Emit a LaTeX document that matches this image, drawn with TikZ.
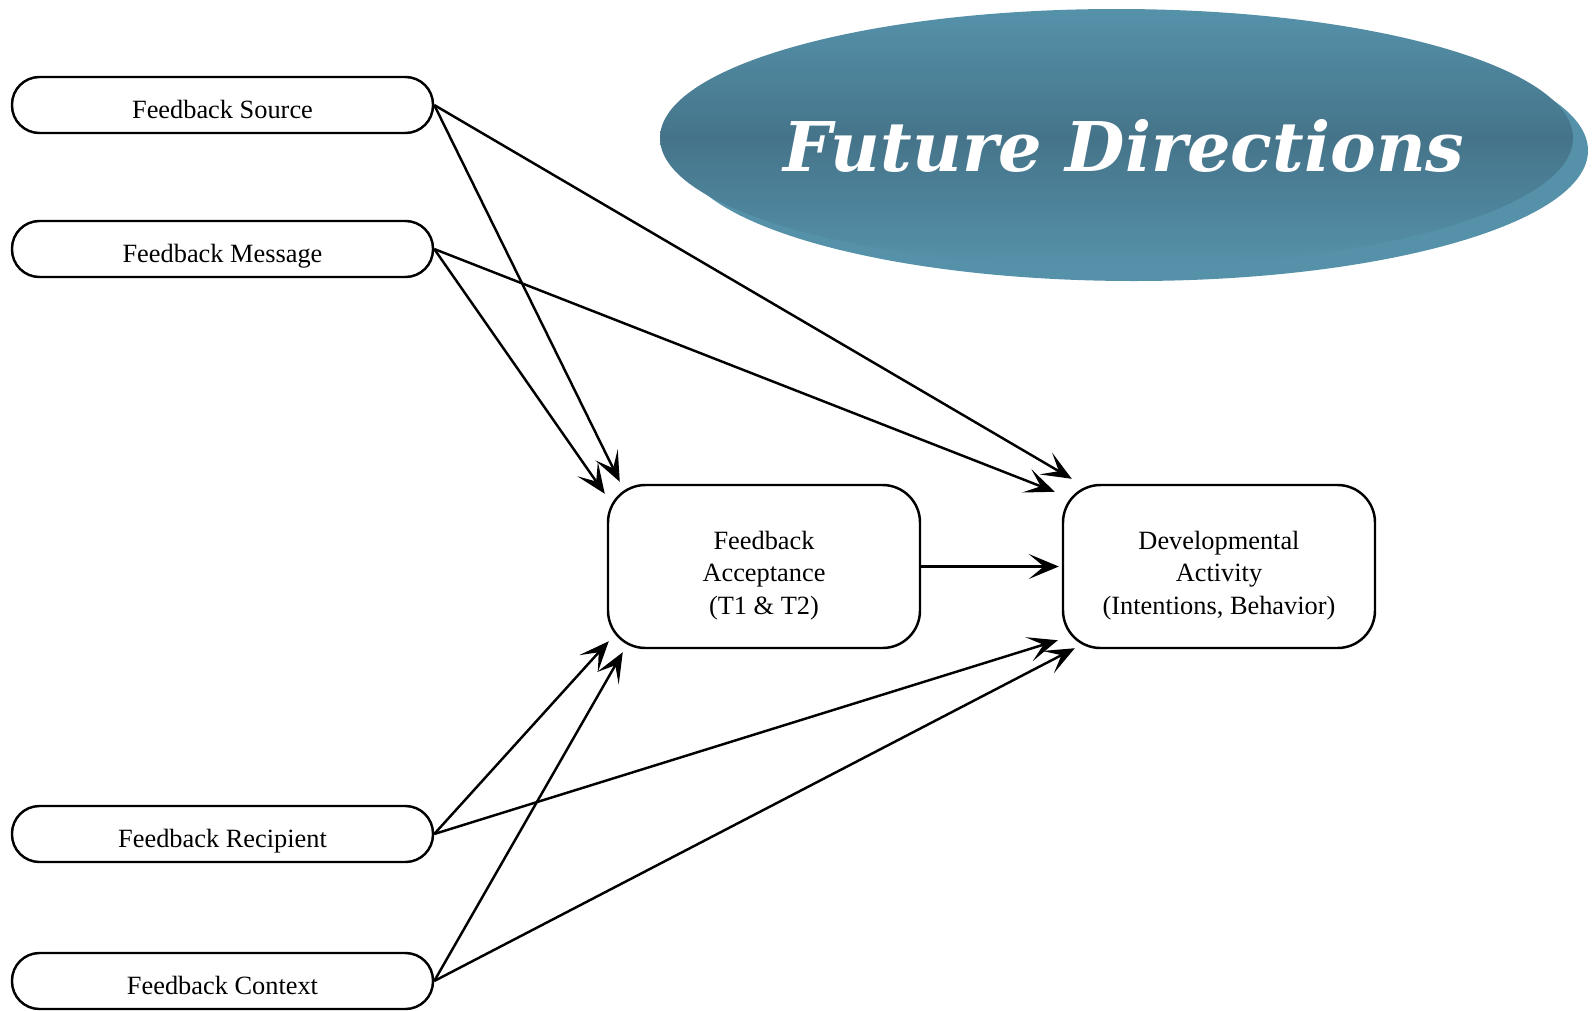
\documentclass[tikz,border=0pt]{standalone}
\usepackage{fontspec}
\setmainfont{Liberation Serif}
\newfontfamily\titlefont{DejaVu Serif}
\usetikzlibrary{positioning,arrows.meta,shapes.geometric}
\definecolor{tealL}{HTML}{5592AA}
\definecolor{tealD}{HTML}{45748A}
\newcommand{\toppad}{\rule{0pt}{0.72cm}}
\begin{document}
\begin{tikzpicture}[node distance=2.88cm,
	side/.style={rectangle, draw, line width=1.4pt, rounded corners=0.55cm, minimum width=8.42cm, minimum height=1.12cm, text height=0.65cm, text depth=0.12cm, align=center, font=\fontsize{15}{18.5}\selectfont},
	core/.style={rectangle, draw, line width=1.4pt, rounded corners=0.75cm, minimum width=6.24cm, minimum height=3.26cm, align=center, font=\fontsize{15}{18.5}\selectfont},
	arrow/.style={-{Stealth[length=6mm,width=5mm,inset=3mm]}, line width=1.4pt}]
	\useasboundingbox (0,0) rectangle (31.92,-20.2);

	% title
	\node (shadow) [ellipse, fill=tealL, minimum width=18.16cm, minimum height=5.22cm, inner sep=0pt] at (22.68,-3.01) {};
	\node (title) [ellipse, top color=tealL, bottom color=tealL, middle color=tealD, minimum width=18.26cm, minimum height=5.16cm, inner sep=0pt] at (22.33,-2.76) {};
	\node (titletext) at (22.48,-2.92) {\titlefont\bfseries\itshape\fontsize{39}{44}\selectfont\color{white}Future Directions};

	% inputs
	\node (source) [side] at (4.45,-2.10) {Feedback Source};
	\node (message) [side, below of=source] {Feedback Message};
	\node (recipient) [side, below of=message, node distance=11.70cm] {Feedback Recipient};
	\node (context) [side, below of=recipient, node distance=2.94cm] {Feedback Context};

	% outcomes
	\node (accept) [core] at (15.28,-11.33) {\toppad Feedback\\Acceptance\\ (T1 \& T2)};
	\node (dev) [core, right of=accept, node distance=9.10cm] {\toppad Developmental\\Activity\\(Intentions, Behavior)};

	\draw [arrow] (source.east) -- ([shift={(0.26,0.04)}]accept.north west);
	\draw [arrow] (message.east) -- ([shift={(-0.04,-0.20)}]accept.north west);
	\draw [arrow] (recipient.east) -- ([shift={(0.04,0.16)}]accept.south west);
	\draw [arrow] (context.east) -- ([shift={(0.32,-0.06)}]accept.south west);

	\draw [arrow] (source.east) -- ([shift={(0.20,0.10)}]dev.north west);
	\draw [arrow] (message.east) -- ([shift={(-0.14,-0.16)}]dev.north west);
	\draw [arrow] (accept.east) -- ([xshift=-0.06cm]dev.west);
	\draw [arrow] (recipient.east) -- ([shift={(-0.08,0.18)}]dev.south west);
	\draw [arrow] (context.east) -- ([shift={(0.26,0.02)}]dev.south west);

\end{tikzpicture}
\end{document}
